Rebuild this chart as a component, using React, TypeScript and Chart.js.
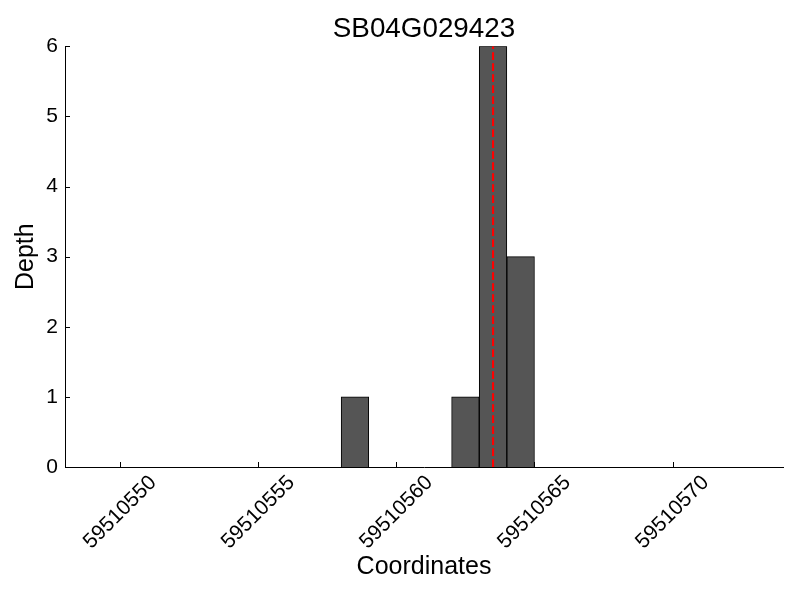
import React, { useEffect, useRef } from "react";
import { Chart, registerables } from "chart.js";

Chart.register(...registerables);

const chartTitle = "SB04G029423";
const xAxisLabel = "Coordinates";
const yAxisLabel = "Depth";
const binStarts = [59510558, 59510562, 59510563, 59510564];
const binWidth = 1;
const depths = [1, 1, 6, 3];
const markerPosition = 59510563.5;
const xMin = 59510548;
const xMax = 59510574;
const xTickValues = [59510550, 59510555, 59510560, 59510565, 59510570];
const yMin = 0;
const yMax = 6;

const FONT = "'Liberation Sans', Arial, Helvetica, sans-serif";

const innerTicks = {
  id: "innerTicks",
  afterDatasetsDraw(chart: any) {
    const ctx = chart.ctx;
    const xs = chart.scales.x;
    const ys = chart.scales.y;
    const area = chart.chartArea;
    ctx.save();
    ctx.strokeStyle = "#000";
    ctx.lineWidth = 1;
    ctx.beginPath();
    xs.ticks.forEach((t: any) => {
      const px = Math.round(xs.getPixelForValue(t.value)) + 0.5;
      ctx.moveTo(px, area.bottom);
      ctx.lineTo(px, area.bottom - 5);
    });
    ys.ticks.forEach((t: any) => {
      const py = Math.round(ys.getPixelForValue(t.value)) + 0.5;
      ctx.moveTo(area.left, py);
      ctx.lineTo(area.left + 5, py);
    });
    ctx.stroke();
    ctx.restore();
  },
};

export default function App() {
  const ref = useRef<HTMLCanvasElement | null>(null);

  useEffect(() => {
    document.body.style.margin = "0";
    const canvas = ref.current;
    if (!canvas) return;
    Chart.defaults.font.family = FONT;
    Chart.defaults.color = "#000";

    const barData = binStarts.map((s, i) => ({ x: s + binWidth / 2, y: depths[i] }));
    const lineData = [
      { x: markerPosition, y: yMin },
      { x: markerPosition, y: yMax },
    ];

    const chart = new Chart(canvas, {
      type: "bar",
      data: {
        datasets: [
          {
            type: "line",
            xAxisID: "x",
            yAxisID: "y",
            data: lineData,
            borderColor: "#ff0000",
            borderWidth: 2.1,
            borderDash: [7.7, 3.3],
            pointRadius: 0,
            fill: false,
            order: 0,
          } as any,
          {
            type: "bar",
            xAxisID: "x",
            yAxisID: "y",
            data: barData,
            backgroundColor: "#555555",
            borderColor: "#000000",
            borderWidth: 1,
            barPercentage: 1,
            categoryPercentage: 1,
            order: 1,
          } as any,
        ],
      },
      options: {
        responsive: false,
        animation: false,
        devicePixelRatio: 1,
        layout: { padding: { left: 0, right: 17, top: 0, bottom: 0 } },
        plugins: {
          legend: { display: false },
          tooltip: { enabled: false },
          title: {
            display: true,
            fullSize: false,
            text: chartTitle,
            color: "#000",
            font: { size: 27.8, weight: "normal", family: FONT },
            padding: { top: 13, bottom: 0 },
          },
        },
        scales: {
          x: {
            type: "linear",
            min: xMin,
            max: xMax,
            offset: false,
            grid: { display: false, drawTicks: false, offset: false },
            border: { display: true, color: "#000", width: 1 },
            afterBuildTicks: (scale: any) => {
              scale.ticks = xTickValues.map((v) => ({ value: v }));
            },
            afterFit: (scale: any) => {
              scale.height = 133;
            },
            ticks: {
              autoSkip: false,
              minRotation: 45,
              maxRotation: 45,
              padding: 3.5,
              labelOffset: 33,
              color: "#000",
              font: { size: 21, family: FONT },
              callback: (v: any) => String(v),
            },
            title: {
              display: true,
              text: xAxisLabel,
              color: "#000",
              font: { size: 25, family: FONT },
              padding: { top: 0, bottom: 17.5 },
            },
          },
          y: {
            type: "linear",
            min: yMin,
            max: yMax,
            grid: { display: false, drawTicks: false },
            border: { display: true, color: "#000", width: 1 },
            afterFit: (scale: any) => {
              scale.width = 65;
            },
            ticks: {
              stepSize: 1,
              padding: 7,
              color: "#000",
              font: { size: 21, family: FONT },
            },
            title: {
              display: true,
              text: yAxisLabel,
              color: "#000",
              font: { size: 25, family: FONT },
              padding: { top: 11, bottom: 0 },
            },
          },
        },
      },
      plugins: [innerTicks],
    });

    return () => chart.destroy();
  }, []);

  return <canvas ref={ref} width={800} height={600} style={{ display: "block" }} />;
}
